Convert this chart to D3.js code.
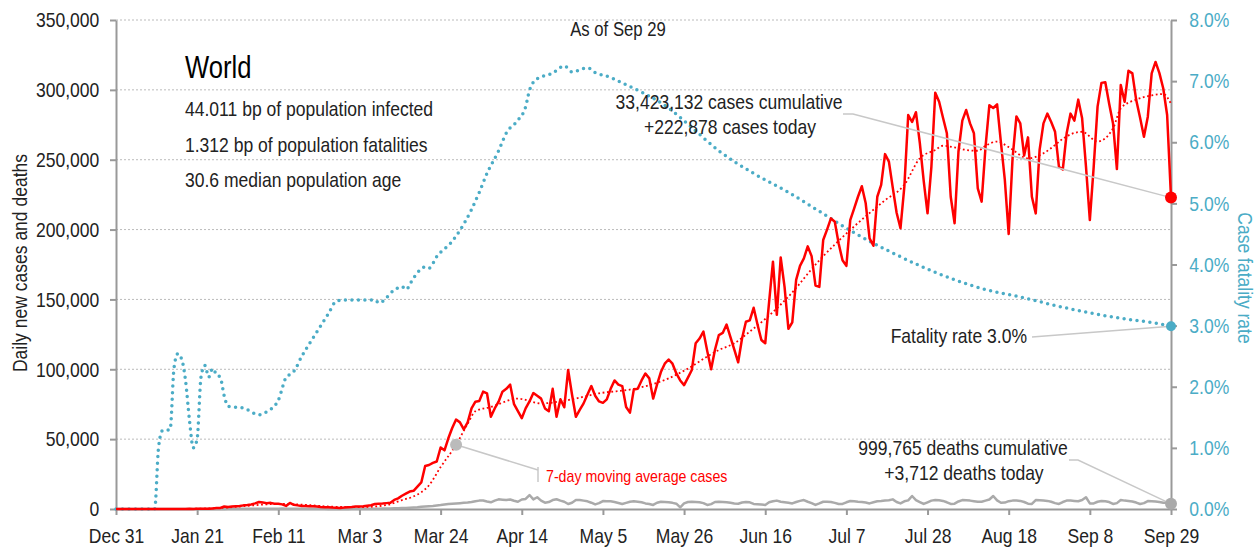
<!DOCTYPE html>
<html>
<head>
<meta charset="utf-8">
<script src="https://cdn.jsdelivr.net/npm/d3@7"></script>
<style>
  body { margin: 0; background: #fff; }
  svg text { font-family: "Liberation Sans", Arial, sans-serif; }
</style>
</head>
<body>
<div id="chart"></div>
<script>
// first day of the series; every array below is indexed by days from it
var startDate = new Date(2019, 11, 31);

var dailyCases = [
  27, 0, 0, 17, 0, 15, 0, 0, 0, 0,
  0, 0, 0, 0, 0, 0, 1, 4, 17, 136,
  80, 150, 140, 100, 260, 440, 670, 790, 1750, 1470,
  1740, 1980, 2100, 2600, 2900, 3300, 4000, 5000, 4600, 4200,
  4400, 3700, 3800, 3300, 2200, 4300, 3000, 2600, 2200, 2100,
  2000, 1900, 1800, 1400, 1200, 1300, 1000, 900, 800, 1000,
  1300, 1500, 1800, 1800, 2000, 2400, 2700, 3600, 3800, 3900,
  4200, 4500, 6500, 7600, 9500, 11000, 12500, 13000, 16000, 19000,
  30800, 31500, 33000, 34000, 44000, 42000, 50600, 58000, 64000, 62000,
  57000, 62000, 72000, 76800, 77300, 84000, 82800, 66000, 72000, 76800,
  84000, 86000, 89000, 75000, 70000, 65000, 72000, 77000, 83000, 81000,
  79000, 72000, 70000, 86000, 66000, 78500, 72800, 99500, 82000, 66000,
  71000, 75600, 82000, 88000, 81000, 77000, 76000, 78500, 86000, 92000,
  89000, 88000, 73000, 69000, 85600, 86000, 92000, 97000, 93500, 79000,
  89000, 98000, 104000, 107000, 104000, 97000, 92000, 88700, 94000, 99500,
  118600, 122000, 127000, 113000, 100000, 114000, 124500, 126000, 132000, 123000,
  114000, 105000, 122000, 134000, 135000, 144000, 132000, 121000, 118600, 148000,
  177000, 139000, 180000, 159000, 129000, 133600, 164000, 174000, 179400, 188000,
  181000, 160000, 159000, 192500, 200000, 208000, 205600, 190000, 178000, 174000,
  206800, 215000, 223500, 231000, 218800, 193700, 188400, 223500, 232000, 254000,
  248600, 230000, 212000, 200900, 230700, 282000, 277000, 284000, 262000, 235000,
  211600, 245000, 298000, 291500, 280000, 268900, 223500, 204500, 255700, 278000,
  285600, 276000, 268900, 229500, 220000, 259000, 289000, 287000, 289600, 262000,
  235500, 196800, 251000, 281000, 276000, 253000, 266000, 223500, 211600, 257000,
  276000, 283000, 277000, 270000, 245000, 243000, 268900, 283000, 278000, 293000,
  279600, 245000, 206800, 245000, 288000, 305000, 305400, 290000, 276000, 243300,
  303500, 291500, 313700, 311800, 292700, 280000, 266500, 280800, 311800, 320000,
  312000, 301000, 282000, 222878
];

var dailyDeaths = [
  0, 0, 0, 0, 0, 0, 0, 0, 0, 0,
  0, 0, 0, 0, 0, 0, 0, 0, 0, 0,
  0, 10, 20, 20, 30, 40, 50, 60, 70, 90,
  100, 110, 100, 110, 120, 140, 160, 160, 170, 200,
  220, 240, 250, 300, 250, 150, 140, 140, 130, 120,
  110, 120, 110, 100, 100, 80, 70, 60, 60, 70,
  80, 90, 100, 130, 140, 150, 150, 200, 250, 300,
  350, 400, 500, 550, 700, 800, 950, 1100, 1300, 1600,
  1800, 2000, 2200, 2500, 2800, 3200, 3600, 3800, 4000, 4200,
  4400, 4600, 5000, 5600, 6000, 6100, 5400, 4800, 6000, 6900,
  6700, 6400, 6800, 5900, 5200, 6800, 7200, 10000, 6900, 8400,
  6000, 4500, 5000, 6400, 7000, 6000, 5200, 3600, 4500, 6400,
  6500, 6000, 5500, 4500, 3300, 4200, 5700, 5600, 5500, 5000,
  4300, 3600, 4400, 5200, 5500, 5200, 4800, 4000, 3600, 2900,
  4500, 5200, 5000, 4800, 4400, 3800, 1200, 4000, 5000, 5200,
  5000, 4800, 4200, 2900, 3500, 5000, 5200, 5000, 4800, 4400,
  4000, 3800, 4600, 5000, 4800, 3600, 3400, 3200, 2900, 4800,
  5500, 6000, 5200, 4800, 4400, 4000, 5000, 5800, 6400, 5200,
  4200, 2900, 4000, 5200, 5200, 5000, 4400, 3600, 3600, 4800,
  5700, 5500, 5200, 5000, 4600, 4000, 4800, 5500, 5700, 6000,
  6300, 6900, 5000, 4000, 5500, 6200, 9300, 6400, 5000, 3600,
  4800, 6000, 6400, 6200, 5800, 4800, 3600, 3800, 5400, 6400,
  6200, 6000, 5600, 5200, 5200, 6000, 6800, 9300, 6200, 4500,
  4600, 5600, 6000, 6000, 5800, 5000, 3800, 3600, 6400, 6200,
  6000, 5800, 5200, 4200, 3600, 5000, 6000, 6000, 5800, 5600,
  6400, 8400, 4000, 4000, 5200, 5700, 5600, 5000, 3600, 4200,
  6400, 6000, 5800, 5400, 4600, 3600, 4200, 5700, 5600, 5400,
  5000, 4500, 4600, 3712
];

// 7-day moving average of cases, read at these days
var avgDays = [0, 14, 21, 28, 35, 42, 49, 56, 63, 70, 74, 77, 81, 84, 88, 91, 93, 97, 104,
  110, 117, 125, 134, 143, 147, 156, 160, 164, 168, 174, 182, 190, 199, 204, 208, 212,
  214, 217, 220, 223, 225, 228, 231, 236, 240, 243, 245, 250, 254, 258, 260, 264, 268, 271, 273];
var avgCases = [0, 0, 200, 900, 2500, 3700, 3000, 1600, 1300, 2800, 6400, 9000, 17000, 30000,
  46000, 61000, 70000, 73000, 79000, 75600, 78000, 82800, 86000, 93500, 99000, 113800,
  118600, 127000, 136000, 152000, 178000, 199700, 221000, 232000, 251000, 257000, 260000,
  258800, 257000, 256400, 260000, 263000, 259000, 251000, 254600, 260500, 265000, 270000,
  263000, 272400, 286800, 293000, 296000, 297000, 290000];

// case fatality rate (%), read at these days
var rateDays = [0, 10, 11, 12, 14, 15, 16, 17, 18, 19, 20, 21, 22, 23, 24, 25, 26, 27, 28, 29,
  33, 37, 39, 42, 44, 45, 46, 48, 51, 53, 55, 57, 59, 67, 68, 72, 74, 75, 77, 80, 81, 83,
  87, 89, 92, 94, 96, 99, 101, 104, 106, 107, 109, 113, 116, 118, 122, 124, 128, 131, 136,
  143, 149, 156, 165, 174, 182, 191, 200, 208, 217, 225, 234, 243, 251, 260, 269, 273];
var fatalityRate = [0, 0, 1.0, 1.28, 1.3, 2.3, 2.54, 2.45, 2.1, 1.46, 1.0, 1.15, 2.16, 2.35,
  2.16, 2.3, 2.2, 2.15, 1.85, 1.68, 1.65, 1.54, 1.59, 1.78, 2.15, 2.2, 2.25, 2.49, 2.8, 3.0,
  3.2, 3.4, 3.42, 3.42, 3.37, 3.58, 3.64, 3.59, 3.78, 3.96, 3.94, 4.13, 4.38, 4.56, 4.9,
  5.18, 5.49, 5.86, 6.15, 6.36, 6.58, 6.85, 7.04, 7.13, 7.25, 7.15, 7.22, 7.14, 7.06, 6.97,
  6.82, 6.56, 6.24, 5.86, 5.49, 5.18, 4.87, 4.52, 4.22, 3.98, 3.75, 3.59, 3.47, 3.33, 3.22,
  3.12, 3.04, 2.99];

var xTickDays = [0, 21, 42, 63, 84, 105, 126, 147, 168, 189, 210, 231, 252, 273];
var leftTicks = [0, 50000, 100000, 150000, 200000, 250000, 300000, 350000];
var rightTicks = [0, 1, 2, 3, 4, 5, 6, 7, 8];

var infoLines = ["44.011 bp of population infected", "1.312 bp of population fatalities", "30.6 median population age"];

var width = 1257, height = 548;
var plotLeft = 116, plotRight = 1171, plotTop = 20, plotBottom = 509;
var red = "#ff0000", cyan = "#4bacc6", grey = "#aaaaaa";
// no narrow font is installed, so text is squeezed horizontally
var SX = 0.835;

function day(i) { return d3.timeDay.offset(startDate, i); }

var x = d3.scaleTime().domain([day(0), day(273)]).range([plotLeft, plotRight]);
var yL = d3.scaleLinear().domain([0, 350000]).range([plotBottom, plotTop]);
var yR = d3.scaleLinear().domain([0, 8]).range([plotBottom, plotTop]);

var svg = d3.select("#chart").append("svg")
  .attr("width", width)
  .attr("height", height);

// grid
svg.append("g").selectAll("line")
  .data(leftTicks.filter(function (d) { return d > 0; }))
  .enter().append("line")
  .attr("x1", plotLeft).attr("x2", plotRight)
  .attr("y1", function (d) { return yL(d); })
  .attr("y2", function (d) { return yL(d); })
  .style("stroke", "#bbb")
  .style("stroke-width", 1)
  .style("stroke-dasharray", "2,2");

function styleAxis(g, color) {
  g.select(".domain").style("stroke", "#999").style("stroke-width", 2);
  g.selectAll(".tick line").style("stroke", "#999").style("stroke-width", 2);
  g.selectAll(".tick text")
    .style("font-size", "21px")
    .style("fill", color)
    .attr("transform", "scale(" + SX + ",1)");
}

var gx = svg.append("g")
  .attr("transform", "translate(0," + plotBottom + ")")
  .call(d3.axisBottom(x)
    .tickValues(xTickDays.map(day))
    .tickFormat(d3.timeFormat("%b %-d"))
    .tickSize(6).tickPadding(13).tickSizeOuter(0));
styleAxis(gx, "#222");

var gl = svg.append("g")
  .attr("transform", "translate(" + plotLeft + ",0)")
  .call(d3.axisLeft(yL)
    .tickValues(leftTicks)
    .tickFormat(d3.format(","))
    .tickSize(6).tickPadding(14).tickSizeOuter(0));
styleAxis(gl, "#222");

var gr = svg.append("g")
  .attr("transform", "translate(" + plotRight + ",0)")
  .call(d3.axisRight(yR)
    .tickValues(rightTicks)
    .tickFormat(function (d) { return d.toFixed(1) + "%"; })
    .tickSize(6).tickPadding(16).tickSizeOuter(0));
styleAxis(gr, cyan);

function label(tx, ty, str, anchor, size, color, rot, sx) {
  return svg.append("text")
    .attr("transform", "translate(" + tx + "," + ty + ")" + (rot ? " rotate(" + rot + ")" : "") + " scale(" + (sx || SX) + ",1)")
    .attr("text-anchor", anchor)
    .style("font-size", size + "px")
    .style("fill", color)
    .text(str);
}

// axis titles
label(27, 263, "Daily new cases and deaths", "middle", 21, "#222", -90);
label(1238, 278, "Case fatality rate", "middle", 21, cyan, 90);

// lines
var rateLine = d3.line()
  .x(function (d, i) { return x(day(rateDays[i])); })
  .y(function (d) { return yR(d); })
  .curve(d3.curveMonotoneX);

svg.append("path")
  .datum(fatalityRate)
  .attr("d", rateLine)
  .style("fill", "none")
  .style("stroke", cyan)
  .style("stroke-width", 3.5)
  .style("stroke-linecap", "round")
  .style("stroke-dasharray", "0,6.5");

var dailyLine = d3.line()
  .x(function (d, i) { return x(day(i)); })
  .y(function (d) { return yL(d); });

svg.append("path")
  .datum(dailyDeaths)
  .attr("d", dailyLine)
  .style("fill", "none")
  .style("stroke", grey)
  .style("stroke-width", 2.5)
  .style("stroke-linejoin", "round");

svg.append("path")
  .datum(dailyCases)
  .attr("d", dailyLine)
  .style("fill", "none")
  .style("stroke", red)
  .style("stroke-width", 2.5)
  .style("stroke-linejoin", "round");

var avgLine = d3.line()
  .x(function (d, i) { return x(day(avgDays[i])); })
  .y(function (d) { return yL(d); })
  .curve(d3.curveMonotoneX);

svg.append("path")
  .datum(avgCases)
  .attr("d", avgLine)
  .style("fill", "none")
  .style("stroke", red)
  .style("stroke-width", 1.8)
  .style("stroke-dasharray", "1.8,2.6");

// end-of-series annotations
var last = dailyCases.length - 1;
var cx = x(day(last));
var lastRate = fatalityRate[fatalityRate.length - 1];

function leader(points) {
  svg.append("path")
    .attr("d", d3.line()(points))
    .style("fill", "none")
    .style("stroke", "#c8c8c8")
    .style("stroke-width", 1.5);
}

leader([[843, 114], [853, 114], [cx, yL(dailyCases[last])]]);
leader([[1032, 337], [cx, yR(lastRate)]]);
leader([[1069, 460], [1078, 460], [cx, yL(dailyDeaths[last])]]);

var ai = avgDays.indexOf(88);
var ax = x(day(avgDays[ai])), ay = yL(avgCases[ai]);
leader([[ax, ay], [538, 470]]);
leader([[538, 467], [538, 482]]);

svg.append("circle").attr("cx", ax).attr("cy", ay).attr("r", 6).style("fill", "#bbb");
svg.append("circle").attr("cx", cx).attr("cy", yL(dailyCases[last])).attr("r", 6).style("fill", red);
svg.append("circle").attr("cx", cx).attr("cy", yR(lastRate)).attr("r", 5).style("fill", cyan);
svg.append("circle").attr("cx", cx).attr("cy", yL(dailyDeaths[last])).attr("r", 6).style("fill", "#aaa");

var fmt = d3.format(",");
label(729, 109, "33,423,132 cases cumulative", "middle", 21, "#222");
label(730, 134, "+" + fmt(dailyCases[last]) + " cases today", "middle", 21, "#222");
label(1027, 343, "Fatality rate " + lastRate.toFixed(1) + "%", "end", 21, "#222");
label(963, 455, "999,765 deaths cumulative", "middle", 21, "#222");
label(964, 480, "+" + fmt(dailyDeaths[last]) + " deaths today", "middle", 21, "#222");
label(546, 482, "7-day moving average cases", "start", 17, red);
label(618, 36, "As of Sep 29", "middle", 20, "#222");

// title block
label(185, 78, "World", "start", 32, "#000", 0, 0.8);
infoLines.forEach(function (d, i) {
  label(185, 116 + i * 35.5, d, "start", 21, "#222");
});
</script>
</body>
</html>
